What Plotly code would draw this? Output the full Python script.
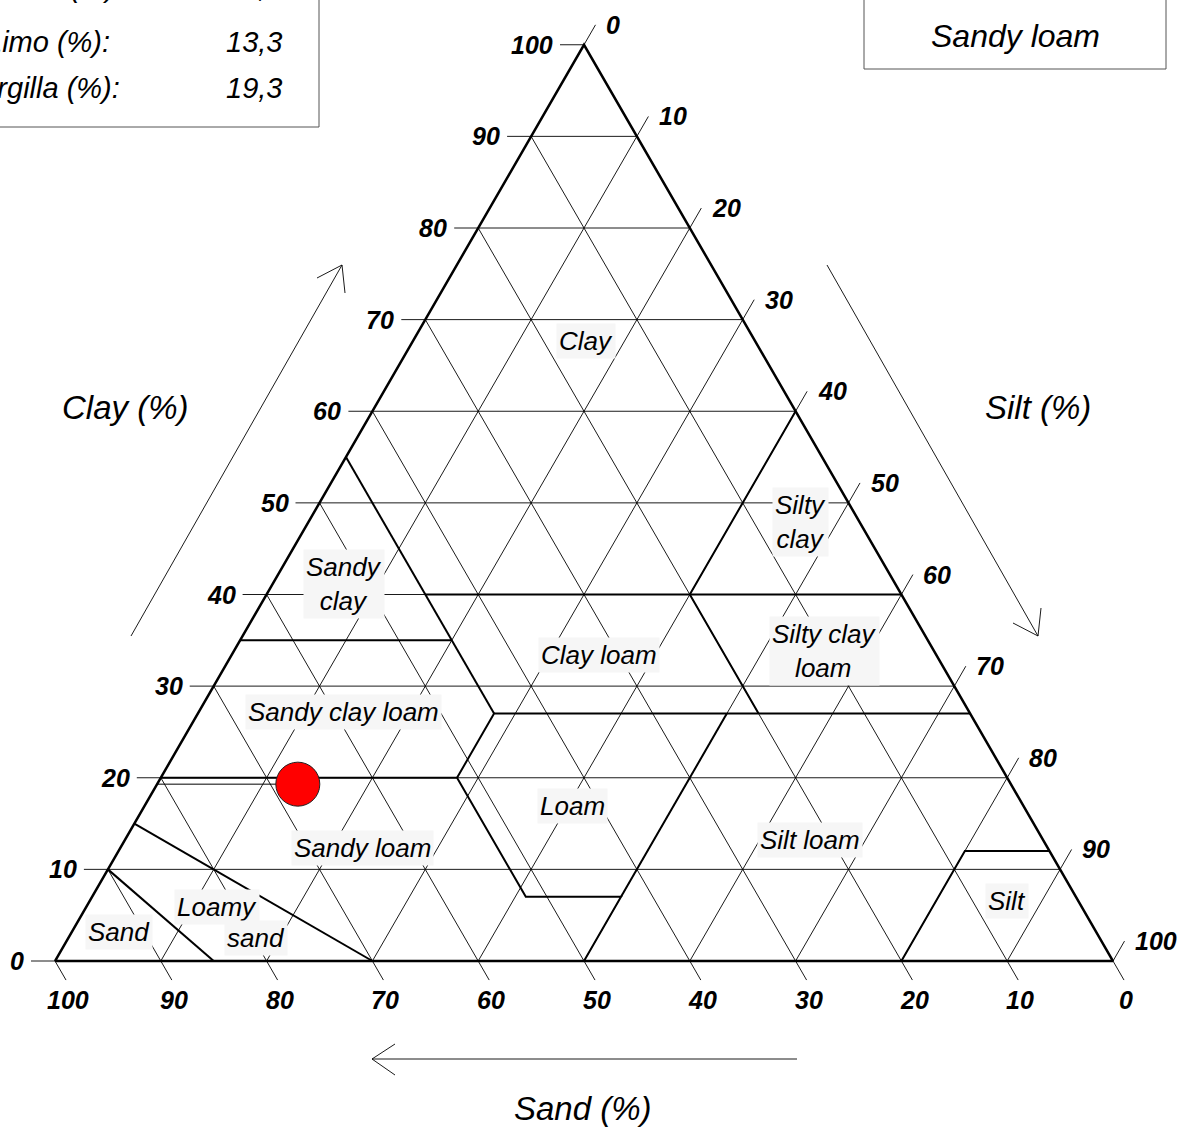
import numpy as np
import plotly.graph_objects as go

# ---------------- data ----------------
W, H = 1181, 1130
sample_sand = 67.4
sample_silt = 13.3
sample_clay = 19.3
sample_class = "Sandy loam"

info_labels = ["Sabbia (%):", "Limo (%):", "Argilla (%):"]
info_values = ["67,4", "13,3", "19,3"]

grid_values = [0, 10, 20, 30, 40, 50, 60, 70, 80, 90, 100]
tick_labels = ["0", "10", "20", "30", "40", "50", "60", "70", "80", "90", "100"]

# USDA class boundaries as (sand %, clay %) vertices; silt = 100 - sand - clay
boundary_sand_loamysand = [(85, 0), (90, 10)]
boundary_loamysand_sandyloam = [(70, 0), (85, 15)]
boundary_sandyloam_upper = [(80, 20), (52, 20), (52, 7), (43, 7), (50, 0)]
boundary_loam_siltloam = [(43, 7), (23, 27)]
boundary_clay27 = [(52, 20), (45, 27), (0, 27)]
boundary_sand45 = [(45, 27), (45, 55)]
boundary_clay35 = [(65, 35), (45, 35)]
boundary_clay40 = [(45, 40), (0, 40)]
boundary_sand20 = [(20, 27), (20, 40), (0, 60)]
boundary_silt = [(20, 0), (8, 12), (0, 12)]
boundaries = [boundary_sand_loamysand, boundary_loamysand_sandyloam,
              boundary_sandyloam_upper, boundary_loam_siltloam, boundary_clay27,
              boundary_sand45, boundary_clay35, boundary_clay40,
              boundary_sand20, boundary_silt]

class_names = ["Clay", "Silty<br>clay", "Sandy<br>clay", "Clay loam",
               "Silty clay<br>loam", "Sandy clay loam", "Loam", "Silt loam",
               "Sandy loam", "Silt", "Loamy", "sand", "Sand"]

# ---------------- geometry helpers ----------------
S = 10.58          # pixels per percent unit along the side
X0, Y0 = 55.0, 961.0
R3 = np.sqrt(3) / 2
FONT = "Arial, Liberation Sans, sans-serif"


def tern(sand, silt, clay):
    return silt + clay / 2.0, clay * R3


def px(xp, yp):
    """pixel -> paper"""
    return xp / W, 1 - yp / H


fig = go.Figure()

# grid lines with tick extensions
TL_CLAY, TL_SILT, TL_SAND = 24 / S, 23 / S, 22 / S
gx, gy = [], []
for v in grid_values:
    x1, y1 = tern(100 - v, 0, v)
    x2, y2 = tern(0, 100 - v, v)
    gx += [x1 - TL_CLAY, x2, None]
    gy += [y1, y2, None]
    x1, y1 = tern(100 - v, v, 0)
    x2, y2 = tern(0, v, 100 - v)
    gx += [x1, x2 + TL_SILT * 0.5, None]
    gy += [y1, y2 + TL_SILT * R3, None]
    x1, y1 = tern(v, 0, 100 - v)
    x2, y2 = tern(v, 100 - v, 0)
    gx += [x1, x2 + TL_SAND * 0.5, None]
    gy += [y1, y2 - TL_SAND * R3, None]
fig.add_trace(go.Scatter(x=gx, y=gy, mode="lines",
                         line=dict(color="black", width=0.9),
                         hoverinfo="skip", showlegend=False))

# class boundaries
bx, by = [], []
for poly in boundaries:
    for sand, clay in poly:
        x, y = tern(sand, 100 - sand - clay, clay)
        bx.append(x)
        by.append(y)
    bx.append(None)
    by.append(None)
fig.add_trace(go.Scatter(x=bx, y=by, mode="lines",
                         line=dict(color="black", width=2),
                         hoverinfo="skip", showlegend=False))

# triangle outline
corners = [(100, 0, 0), (0, 100, 0), (0, 0, 100), (100, 0, 0)]
tx = [tern(*c)[0] for c in corners]
ty = [tern(*c)[1] for c in corners]
fig.add_trace(go.Scatter(x=tx, y=ty, mode="lines",
                         line=dict(color="black", width=2.5),
                         hoverinfo="skip", showlegend=False))

# clay reference line to the sample point
lx0, ly0 = tern(100 - sample_clay, 0, sample_clay)
lx1, ly1 = tern(sample_sand, sample_silt, sample_clay)
fig.add_trace(go.Scatter(x=[lx0, lx1], y=[ly0, ly1], mode="lines",
                         line=dict(color="black", width=1),
                         hoverinfo="skip", showlegend=False))

# sample point
fig.add_trace(go.Scatter(x=[lx1], y=[ly1], mode="markers",
                         marker=dict(size=44, color="#ff0000",
                                     line=dict(color="#222222", width=1)),
                         hoverinfo="skip", showlegend=False))

ann = []
tick_font = dict(family=FONT, size=25, color="black",
                 style="italic", weight="bold")
for v, lab in zip(grid_values, tick_labels):
    # clay (left)
    x, y = tern(100 - v, 0, v)
    ann.append(dict(x=x, y=y, xref="x", yref="y", text=lab, showarrow=False,
                    xanchor="right", yanchor="middle", xshift=-29,
                    font=tick_font))
    # silt (right)
    x, y = tern(0, v, 100 - v)
    ann.append(dict(x=x, y=y, xref="x", yref="y", text=lab, showarrow=False,
                    xanchor="left", yanchor="middle", xshift=20, yshift=20,
                    font=tick_font))
    # sand (bottom)
    x, y = tern(v, 100 - v, 0)
    ann.append(dict(x=x, y=y, xref="x", yref="y", text=lab, showarrow=False,
                    xanchor="center", yanchor="middle", xshift=13, yshift=-39,
                    font=tick_font))

# class labels (pixel centres)
label_pos = [(586, 341), (800, 522), (344, 584), (599, 655), (824, 651),
             (343, 712), (572, 806), (810, 840), (362, 848), (1007, 901),
             (217, 907), (256, 938), (119, 932)]
lab_font = dict(family=FONT, size=26, color="black", style="italic")
for name, (cx, cy) in zip(class_names, label_pos):
    xp, yp = px(cx, cy)
    ann.append(dict(x=xp, y=yp, xref="paper", yref="paper", text=name,
                    showarrow=False, xanchor="center", yanchor="middle",
                    bgcolor="#f6f6f6", borderpad=2, font=lab_font))

# axis titles
title_font = dict(family=FONT, size=33, color="black", style="italic")
for t, (cx, cy) in [("Clay (%)", (125, 408)), ("Silt (%)", (1038, 408)),
                    ("Sand (%)", (583, 1108))]:
    xp, yp = px(cx, cy)
    ann.append(dict(x=xp, y=yp, xref="paper", yref="paper", text=t,
                    showarrow=False, xanchor="center", yanchor="middle",
                    font=title_font))

# result box
xp, yp = px(1015, 36)
ann.append(dict(x=xp, y=yp, xref="paper", yref="paper", text=sample_class,
                showarrow=False, xanchor="center", yanchor="middle",
                font=dict(family=FONT, size=32, color="black", style="italic")))

# info box rows
box_font = dict(family=FONT, size=29, color="black", style="italic")
row_y = [-13, 42, 88]
for lab, val, ry in zip(info_labels, info_values, row_y):
    xa, ya = px(48, ry)
    ann.append(dict(x=xa, y=ya, xref="paper", yref="paper", text=lab,
                    showarrow=False, xanchor="center",
                    yanchor="middle", font=box_font))
    xv, yv = px(284, ry)
    ann.append(dict(x=xv, y=yv, xref="paper", yref="paper", text=val,
                    showarrow=False, xanchor="right", yanchor="middle",
                    font=box_font))

shapes = []
# boxes
for (x0, y0, x1, y1) in [(-20, -20, 319, 127), (864, -1, 1166, 69)]:
    a0, b0 = px(x0, y0)
    a1, b1 = px(x1, y1)
    shapes.append(dict(type="rect", xref="paper", yref="paper",
                       x0=a0, y0=b1, x1=a1, y1=b0,
                       line=dict(color="#555555", width=1)))

# direction arrows (open heads)
arrows = [
    [(131, 636), (342, 265), (317, 278), (345, 293)],
    [(827, 265), (1038, 636), (1013, 623), (1041, 608)],
    [(797, 1059), (372, 1059), (395, 1044), (395, 1075)],
]
for tail, tip, h1, h2 in arrows:
    for a, b in [(tail, tip), (h1, tip), (h2, tip)]:
        xa, ya = px(*a)
        xb, yb = px(*b)
        shapes.append(dict(type="line", xref="paper", yref="paper",
                           x0=xa, y0=ya, x1=xb, y1=yb,
                           line=dict(color="black", width=0.9)))

fig.update_layout(
    width=W, height=H,
    margin=dict(l=0, r=0, t=0, b=0),
    paper_bgcolor="white", plot_bgcolor="white",
    xaxis=dict(range=[-X0 / S, (W - X0) / S], visible=False, fixedrange=True),
    yaxis=dict(range=[(Y0 - H) / S, Y0 / S], visible=False, fixedrange=True),
    annotations=ann, shapes=shapes, showlegend=False,
)
fig.write_html("out.html",
               config={"displayModeBar": False},
               post_script="document.body.style.margin='0px';"
                           "document.body.style.overflow='hidden';")
